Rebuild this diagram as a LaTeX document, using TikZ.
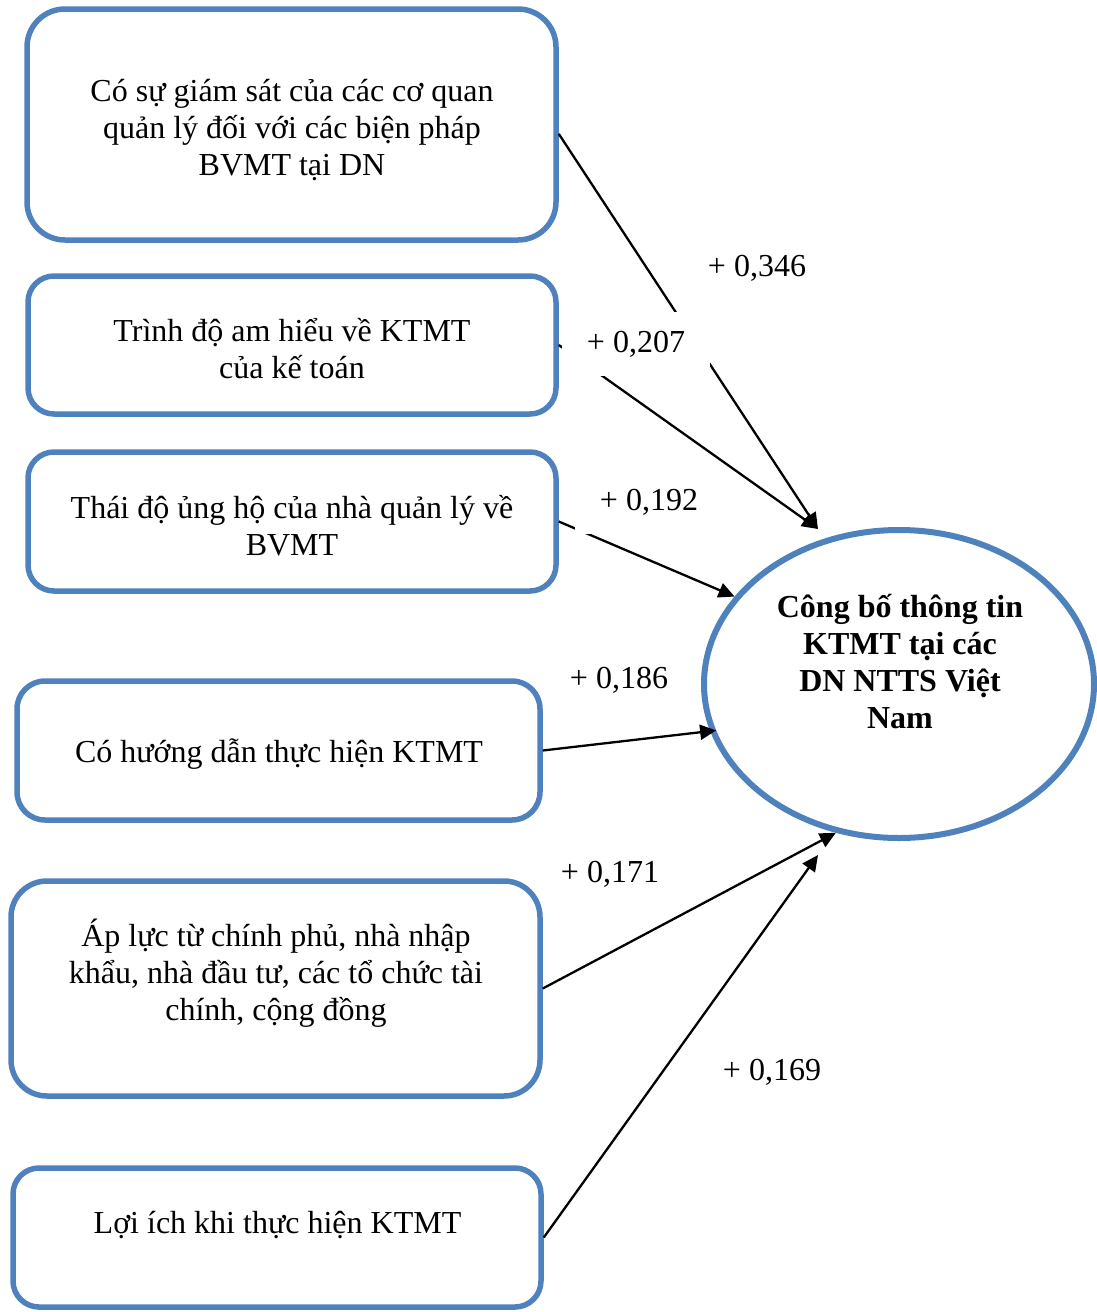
\documentclass[tikz,border=0pt]{standalone}
\usepackage{fontspec}
\setmainfont{Liberation Serif}
\usetikzlibrary{arrows.meta,shapes.geometric}
\definecolor{boxblue}{RGB}{79,129,189}
\begin{document}
\begin{tikzpicture}[x=1pt,y=-1pt,
  factor/.style={draw=boxblue,line width=5.5pt,rectangle,inner sep=0pt},
  txt/.style={align=center,inner sep=0pt,font=\fontsize{32}{37}\selectfont},
  goaltxt/.style={align=center,inner sep=0pt,font=\fontsize{32}{37}\selectfont\bfseries},
  link/.style={line width=2.3pt,-{Triangle[length=16pt,width=15pt]}},
  coef/.style={inner sep=0pt,minimum width=148pt,minimum height=64pt,font=\fontsize{32}{37}\selectfont},
  cut/.style={fill=white}]
\useasboundingbox (0,0) rectangle (1096,1312);

% factor boxes
\node[factor,minimum width=529pt,minimum height=231pt,rounded corners=38pt] (b1) at (291.5,124.5) {};
\node[factor,minimum width=528pt,minimum height=138pt,rounded corners=26pt] (b2) at (292,345) {};
\node[factor,minimum width=528pt,minimum height=139pt,rounded corners=26pt] (b3) at (292,521.5) {};
\node[factor,minimum width=523pt,minimum height=139pt,rounded corners=28pt] (b4) at (278.5,750.5) {};
\node[factor,minimum width=529pt,minimum height=215pt,rounded corners=36pt] (b5) at (275.5,988.5) {};
\node[factor,minimum width=528pt,minimum height=139pt,rounded corners=26pt] (b6) at (277,1237.5) {};

% box texts
\node[txt] (t1) at (292,130) {Có sự giám sát của các cơ quan\\quản lý đối với các biện pháp\\BVMT tại DN};
\node[txt] (t2) at (292,349) {Trình độ am hiểu về KTMT\\của kế toán};
\node[txt] (t3) at (292,526) {Thái độ ủng hộ của nhà quản lý về\\BVMT};
\node[txt] (t4) at (279,754.5) {Có hướng dẫn thực hiện KTMT};
\node[txt] (t5) at (276,973.5) {Áp lực từ chính phủ, nhà nhập\\khẩu, nhà đầu tư, các tổ chức tài\\chính, cộng đồng};
\node[txt] (t6) at (277.5,1224.5) {Lợi ích khi thực hiện KTMT};

% dependent variable
\node[ellipse,draw=boxblue,line width=6pt,minimum width=390pt,minimum height=308pt,inner sep=0pt] (goal) at (899,684) {};
\node[goaltxt] (gt) at (900,662) {Công bố thông tin\\KTMT tại các\\DN NTTS Việt\\Nam};

% arrow ends that stop short of the ellipse
\coordinate (j12) at (818,529);
\coordinate (j6) at (818,855);

% effects
\draw[link] (b1.358.8) -- (j12);
\draw[link] (b2.east) -- (j12);
\draw[link] (b3.east) -- (goal.152);
\draw[link,shorten >=-6pt] (b4.east) -- (goal.194);
\draw[link] (b5.east) -- (goal.247);
\draw[link] (b6.east) -- (j6);

% coefficients
\node[coef] (c1) at (757,268) {+ 0,346};
\node[coef,cut] (c2) at (636,344) {+ 0,207};
\node[coef,cut] (c3) at (649,502) {+ 0,192};
\node[coef] (c4) at (619,680) {+ 0,186};
\node[coef] (c5) at (610,874) {+ 0,171};
\node[coef] (c6) at (772,1072) {+ 0,169};
\end{tikzpicture}
\end{document}
